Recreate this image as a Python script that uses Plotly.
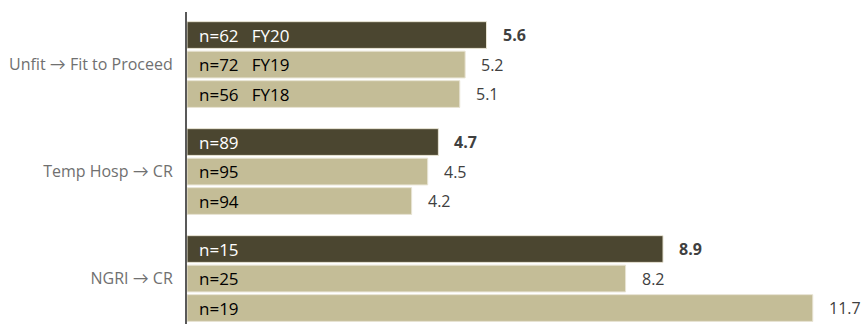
import plotly.graph_objects as go

categories = ["Unfit \u2192 Fit to Proceed", "Temp Hosp \u2192 CR", "NGRI \u2192 CR"]
series_names = ["FY20", "FY19", "FY18"]
values = {
    "FY20": [5.6, 4.7, 8.9],
    "FY19": [5.2, 4.5, 8.2],
    "FY18": [5.1, 4.2, 11.7],
}
counts = {
    "FY20": [62, 89, 15],
    "FY19": [72, 95, 25],
    "FY18": [56, 94, 19],
}
colors = {"FY20": "#4B4630", "FY19": "#C4BD97", "FY18": "#C4BD97"}
inner_text_colors = {"FY20": "#FFFFFF", "FY19": "#000000", "FY18": "#000000"}

FONT = "'Open Sans', Lato, sans-serif"
step = 0.2757
bar_w = 0.25

fig = go.Figure()
annotations = []
for k, s in enumerate(series_names):
    ys = [g + (k - 1) * step for g in range(len(categories))]
    fig.add_trace(go.Bar(
        orientation="h",
        x=values[s],
        y=ys,
        width=bar_w,
        marker=dict(color=colors[s], line=dict(color="#E8E4D4", width=1)),
        hoverinfo="skip",
        showlegend=False,
    ))
    for g in range(len(categories)):
        label = f"n={counts[s][g]}" + (f"\u00a0\u00a0\u00a0{s}" if g == 0 else "")
        annotations.append(dict(
            x=0, y=ys[g], xref="x", yref="y", text=label, showarrow=False,
            xanchor="left", yanchor="middle", xshift=10,
            font=dict(family=FONT, size=17, color=inner_text_colors[s]),
        ))
        vtxt = f"{values[s][g]:.1f}"
        if s == "FY20":
            vtxt = f"<b>{vtxt}</b>"
        annotations.append(dict(
            x=values[s][g], y=ys[g], xref="x", yref="y", text=vtxt, showarrow=False,
            xanchor="left", yanchor="middle", xshift=14,
            font=dict(family=FONT, size=16, color="#404040"),
        ))

fig.update_layout(
    width=862, height=324,
    margin=dict(l=187, r=0, t=12, b=0),
    paper_bgcolor="white", plot_bgcolor="white",
    barmode="overlay",
    annotations=annotations,
    xaxis=dict(range=[0, 12.62], visible=False, showgrid=False, zeroline=False),
    yaxis=dict(
        range=[2.425, -0.491],
        tickvals=list(range(len(categories))),
        ticktext=categories,
        showgrid=False, zeroline=False,
        showline=True, linecolor="#595959", linewidth=2,
        ticks="", ticklabelstandoff=9,
        tickfont=dict(family=FONT, size=16, color="#707070"),
    ),
)

fig.write_html("out.html")
